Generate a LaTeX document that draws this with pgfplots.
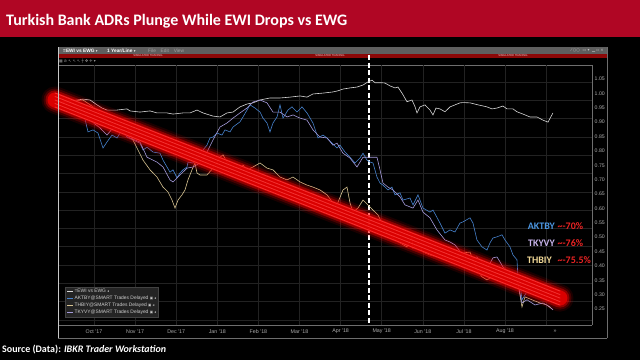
\documentclass[border=0pt]{standalone}
\usepackage{pgfplots}
\pgfplotsset{compat=1.18}
\usepackage{fontspec}
\setmainfont{Carlito}
\newfontfamily\lib{Liberation Sans}
\newfontfamily\dv{DejaVu Sans}
\definecolor{titlered}{RGB}{176,6,36}
\definecolor{ewi}{RGB}{215,215,215}
\definecolor{akt}{RGB}{70,130,205}
\definecolor{tky}{RGB}{165,155,220}
\definecolor{thb}{RGB}{215,195,145}
\definecolor{aktT}{RGB}{75,150,225}
\definecolor{tkyT}{RGB}{200,180,235}
\definecolor{thbT}{RGB}{240,215,150}
\definecolor{annred}{RGB}{235,35,35}
\definecolor{bandcore}{RGB}{225,0,0}
\definecolor{bandline}{RGB}{255,70,70}
\definecolor{gridc}{RGB}{34,34,34}
\definecolor{hdr}{RGB}{95,95,95}
\definecolor{simred}{RGB}{140,8,8}
\definecolor{frame}{RGB}{110,110,110}
\definecolor{simtxt}{RGB}{235,205,205}
\definecolor{menugray}{RGB}{160,160,160}
\definecolor{icongray}{RGB}{190,190,190}
\definecolor{toolgray}{RGB}{165,165,165}
\definecolor{ticktxt}{RGB}{172,172,172}
\definecolor{legfill}{RGB}{36,36,36}
\definecolor{legdraw}{RGB}{66,66,66}
\definecolor{legtxt}{RGB}{205,205,205}
\definecolor{leftedge}{RGB}{200,200,200}
\begin{document}
\begin{tikzpicture}[x=1pt,y=1pt]
\fill[black] (0,0) rectangle (640,360);
% title bar
\fill[titlered] (0,323.5) rectangle (640,360);
\node[anchor=base west, inner sep=0, text=white, font=\fontsize{16}{18}\selectfont\bfseries] at (6,334.5) {Turkish Bank ADRs Plunge While EWI Drops vs EWG};
% window header
\fill[hdr] (58,306) rectangle (607,313.3);
\fill[simred] (58,302.5) rectangle (607,306);
\foreach \xx in {148,330,513}{\node[text=simtxt, font=\lib\fontsize{2.8}{3}\selectfont, inner sep=0] at (\xx,304.25) {SIMULATED TRADING};}
\node[anchor=west, inner sep=0, text=white, font=\lib\bfseries\fontsize{4.8}{5}\selectfont] at (63,309.6) {=EWI vs EWG {\dv\fontsize{3.5}{4}\selectfont ▾}};
\node[anchor=west, inner sep=0, text=white, font=\lib\bfseries\fontsize{4.8}{5}\selectfont] at (107,309.6) {1 Year/Line {\dv\fontsize{3.5}{4}\selectfont ▾}};
\node[anchor=west, inner sep=0, text=menugray, font=\lib\fontsize{4.8}{5}\selectfont] at (148,309.6) {File\quad Edit\quad View};
\node[anchor=east, inner sep=0, text=icongray, font=\dv\fontsize{4}{5}\selectfont] at (604,309.6) {⁄ ○○\ \ ▭ ▾\ \ ▁ ▫ ×};
% toolbar icons
\node[anchor=west, inner sep=0, text=toolgray, font=\dv\fontsize{3.8}{4}\selectfont] at (59,299) {▦ ⊘ ↖ ↖ ↖ ┼ ✥ ✛ ▾};
% frame lines
\draw[frame, line width=0.5pt] (58,295) -- (592,295);
\draw[frame, line width=0.5pt] (58,35) -- (592,35);
\draw[frame, line width=0.5pt] (592,35) -- (592,295);
\draw[frame, line width=0.6pt] (607,22) -- (607,313.3);
\draw[frame, line width=0.6pt] (58,22) -- (607,22);
\begin{axis}[
  at={(58pt,35pt)}, anchor=south west,
  scale only axis, width=534pt, height=260pt,
  xmin=-0.876, xmax=12.117, ymin=0.1943, ymax=1.0987,
  clip=false,
  axis line style={draw=none},
  major tick length=0pt,
  tick style={draw=none},
  /pgf/number format/assume math mode=true,
  xtick={0,1,2,3,4,5,6,7,8,9,10},
  xticklabels={Oct '17,Nov '17,Dec '17,Jan '18,Feb '18,Mar '18,Apr '18,May '18,Jun '18,Jul '18,Aug '18},
  xticklabel style={anchor=center, yshift=-6.5pt, inner sep=0pt, font=\lib\fontsize{5.3}{6}\selectfont, text=ticktxt},
  xmajorgrids, major grid style={gridc, line width=0.5pt},
  extra x ticks={11}, extra x tick labels={},
  ytick={0.25,0.30,0.35,0.40,0.45,0.50,0.55,0.60,0.65,0.70,0.75,0.80,0.85,0.90,0.95,1.00,1.05},
  yticklabel pos=right,
  yticklabel style={anchor=west, inner sep=0pt, xshift=2.5pt, font=\lib\fontsize{5.2}{6}\selectfont, text=ticktxt, /pgf/number format/.cd, fixed, fixed zerofill, precision=2},
  extra y ticks={1.0396,0.9759,0.9123,0.8486,0.7850,0.7213,0.6577,0.5940,0.5304,0.4667,0.4031,0.3394,0.2758,0.2121},
  extra y tick labels={},
  extra y tick style={grid=major},
  legend style={at={(0.0131,0.146)}, anchor=north west, fill=legfill, draw=legdraw, text=legtxt, font=\lib\fontsize{4.9}{5}\selectfont, inner xsep=1.5pt, inner ysep=1.2pt, row sep=0.5pt, nodes={inner sep=0.7pt}},
  legend cell align=left,
  legend image code/.code={\draw[#1, line width=1.2pt] (0pt,0pt) -- (6pt,0pt);},
]
% dashed vertical marker
\draw[white, line width=1.1pt, dash pattern=on 5pt off 2.5pt] (axis cs:6.691,1.1335) -- (axis cs:6.691,0.1943);
% EWI vs EWG
\addplot[ewi, line width=0.6pt] coordinates {(-0.827,0.971) (-0.511,0.975) (-0.268,0.980) (-0.097,0.977) (0.073,0.960) (0.195,0.949) (0.316,0.942) (0.560,0.942) (0.803,0.946) (0.876,0.939) (1.119,0.935) (1.363,0.939) (1.533,0.932) (1.776,0.932) (1.922,0.928) (2.165,0.932) (2.336,0.932) (2.506,0.942) (2.652,0.932) (2.895,0.921) (3.066,0.918) (3.236,0.932) (3.382,0.935) (3.552,0.953) (3.723,0.963) (3.869,0.967) (4.039,0.977) (4.282,0.984) (4.526,0.984) (4.769,0.987) (5.012,0.991) (5.182,0.987) (5.328,0.998) (5.572,1.001) (5.815,1.005) (5.937,1.009) (6.058,1.015) (6.229,1.019) (6.399,1.022) (6.545,1.029) (6.666,1.040) (6.764,1.046) (6.837,1.037) (7.007,1.037) (7.080,1.036) (7.202,1.026) (7.323,1.019) (7.396,1.022) (7.494,1.001) (7.615,0.971) (7.737,0.977) (7.810,0.954) (7.859,0.932) (7.932,0.953) (8.053,0.960) (8.175,0.942) (8.248,0.925) (8.321,0.949) (8.418,0.946) (8.540,0.936) (8.662,0.953) (8.783,0.960) (8.905,0.967) (8.978,0.968) (9.148,0.967) (9.318,0.961) (9.562,0.953) (9.683,0.946) (9.805,0.949) (9.951,0.956) (10.048,0.946) (10.194,0.946) (10.292,0.936) (10.438,0.928) (10.608,0.918) (10.778,0.918) (10.924,0.907) (11.046,0.900) (11.167,0.932)};
\addlegendentry{=EWI vs EWG {\dv\fontsize{3.5}{4}\selectfont ◂}}
% AKTBY
\addplot[akt, line width=0.6pt] coordinates {(-0.827,0.970) (-0.511,0.967) (-0.341,0.918) (-0.219,0.911) (-0.146,0.866) (-0.024,0.873) (0.097,0.862) (0.219,0.810) (0.316,0.831) (0.438,0.855) (0.560,0.845) (0.681,0.873) (0.803,0.848) (0.949,0.838) (1.119,0.827) (1.192,0.803) (1.290,0.813) (1.436,0.796) (1.606,0.792) (1.679,0.768) (1.776,0.744) (1.849,0.726) (1.922,0.734) (2.019,0.706) (2.092,0.723) (2.165,0.734) (2.263,0.744) (2.287,0.761) (2.409,0.758) (2.506,0.775) (2.579,0.792) (2.652,0.803) (2.749,0.820) (2.822,0.845) (2.895,0.848) (2.993,0.862) (3.114,0.855) (3.187,0.873) (3.309,0.866) (3.382,0.883) (3.552,0.901) (3.625,0.918) (3.723,0.942) (3.796,0.960) (3.917,0.949) (4.039,0.935) (4.112,0.914) (4.209,0.897) (4.282,0.866) (4.355,0.897) (4.453,0.918) (4.526,0.960) (4.599,0.914) (4.720,0.942) (4.817,0.953) (4.939,0.935) (5.061,0.953) (5.182,0.932) (5.328,0.897) (5.450,0.845) (5.572,0.855) (5.669,0.845) (5.791,0.827) (5.912,0.810) (5.985,0.820) (6.107,0.796) (6.229,0.778) (6.350,0.758) (6.472,0.775) (6.545,0.792) (6.642,0.768) (6.715,0.761) (6.788,0.758) (6.885,0.709) (6.959,0.688) (7.031,0.681) (7.153,0.664) (7.250,0.674) (7.323,0.647) (7.445,0.654) (7.518,0.629) (7.689,0.636) (7.761,0.612) (7.883,0.647) (8.005,0.601) (8.175,0.587) (8.248,0.594) (8.418,0.549) (8.540,0.514) (8.662,0.525) (8.783,0.518) (8.905,0.549) (8.978,0.553) (9.148,0.567) (9.221,0.549) (9.318,0.490) (9.440,0.466) (9.562,0.455) (9.635,0.480) (9.708,0.497) (9.805,0.501) (9.927,0.508) (10.000,0.490) (10.122,0.466) (10.194,0.438) (10.292,0.421) (10.316,0.358) (10.365,0.341) (10.413,0.282) (10.535,0.310) (10.681,0.327) (10.852,0.327) (11.021,0.316) (11.143,0.306)};
\addlegendentry{AKTBY@SMART Trades Delayed {\dv\fontsize{3.5}{4}\selectfont ▣ ◂}}
% THBIY
\addplot[thb, line width=0.6pt] coordinates {(-0.827,0.970) (-0.584,0.974) (-0.268,0.977) (-0.024,0.953) (0.146,0.932) (0.316,0.907) (0.560,0.880) (0.803,0.883) (0.949,0.838) (1.071,0.803) (1.192,0.768) (1.363,0.734) (1.533,0.709) (1.679,0.674) (1.800,0.657) (1.898,0.629) (1.971,0.601) (2.044,0.629) (2.141,0.647) (2.214,0.664) (2.287,0.699) (2.384,0.734) (2.457,0.758) (2.506,0.723) (2.579,0.716) (2.749,0.716) (2.895,0.740) (3.066,0.778) (3.139,0.786) (3.236,0.761) (3.382,0.744) (3.552,0.740) (3.625,0.751) (3.723,0.734) (3.869,0.744) (4.039,0.758) (4.209,0.740) (4.355,0.734) (4.526,0.709) (4.696,0.699) (4.842,0.709) (5.012,0.692) (5.182,0.681) (5.328,0.674) (5.499,0.664) (5.669,0.647) (5.815,0.619) (5.912,0.612) (6.058,0.664) (6.156,0.674) (6.229,0.619) (6.302,0.587) (6.423,0.601) (6.545,0.629) (6.666,0.612) (6.788,0.594) (6.910,0.577) (7.007,0.549) (7.129,0.514) (7.275,0.497) (7.445,0.480) (7.615,0.466) (7.737,0.501) (7.761,0.462) (7.883,0.480) (8.005,0.448) (8.175,0.438) (8.345,0.431) (8.491,0.428) (8.662,0.421) (8.832,0.431) (8.978,0.445) (9.148,0.448) (9.221,0.421) (9.318,0.386) (9.440,0.362) (9.562,0.351) (9.683,0.362) (9.805,0.375) (9.927,0.369) (10.048,0.362) (10.194,0.358) (10.316,0.341) (10.413,0.257) (10.486,0.292) (10.657,0.282) (10.852,0.271) (11.021,0.264) (11.143,0.250)};
\addlegendentry{THBIY@SMART Trades Delayed {\dv\fontsize{3.5}{4}\selectfont ▣ ◂}}
% TKYVY
\addplot[tky, line width=0.6pt] coordinates {(-0.827,0.970) (-0.511,0.963) (-0.268,0.942) (-0.097,0.907) (0.146,0.880) (0.316,0.855) (0.462,0.880) (0.633,0.873) (0.876,0.845) (1.119,0.831) (1.290,0.778) (1.533,0.761) (1.679,0.744) (1.849,0.699) (1.922,0.692) (2.092,0.716) (2.263,0.740) (2.409,0.744) (2.579,0.758) (2.749,0.796) (2.895,0.838) (3.066,0.883) (3.236,0.897) (3.382,0.914) (3.552,0.932) (3.723,0.949) (3.869,0.970) (4.039,0.977) (4.209,0.967) (4.355,0.935) (4.526,0.935) (4.696,0.918) (4.842,0.925) (5.012,0.914) (5.182,0.907) (5.328,0.873) (5.499,0.848) (5.669,0.845) (5.815,0.820) (5.912,0.827) (6.058,0.792) (6.229,0.775) (6.399,0.744) (6.545,0.778) (6.715,0.778) (6.885,0.778) (6.959,0.734) (7.031,0.688) (7.153,0.674) (7.275,0.664) (7.445,0.640) (7.567,0.612) (7.761,0.601) (7.883,0.629) (8.005,0.587) (8.175,0.567) (8.345,0.525) (8.540,0.490) (8.662,0.483) (8.783,0.473) (8.978,0.438) (9.148,0.421) (9.318,0.431) (9.464,0.410) (9.586,0.396) (9.708,0.428) (9.805,0.431) (9.878,0.414) (9.951,0.396) (10.122,0.375) (10.292,0.351) (10.413,0.271) (10.535,0.282) (10.730,0.264) (10.924,0.271) (11.095,0.257) (11.167,0.247)};
\addlegendentry{TKYVY@SMART Trades Delayed {\dv\fontsize{3.5}{4}\selectfont ▣ ◂}}
% red glowing trend band
\addplot[forget plot, line width=27pt, color=red, opacity=0.10, line cap=round] coordinates {(-0.949,0.977) (11.338,0.288)};
\addplot[forget plot, line width=23pt, color=red, opacity=0.20, line cap=round] coordinates {(-0.949,0.977) (11.338,0.288)};
\addplot[forget plot, line width=19pt, color=red, opacity=0.40, line cap=round] coordinates {(-0.949,0.977) (11.338,0.288)};
\addplot[forget plot, line width=15pt, color=bandcore, opacity=0.92, line cap=round] coordinates {(-0.949,0.977) (11.338,0.288)};
\addplot[forget plot, line width=0.8pt, color=bandline, opacity=0.7, line cap=round] coordinates {(-0.949,1.0014) (11.338,0.3124)};
\addplot[forget plot, line width=0.8pt, color=bandline, opacity=0.7, line cap=round] coordinates {(-0.949,0.9892) (11.338,0.3002)};
\addplot[forget plot, line width=0.8pt, color=bandline, opacity=0.7, line cap=round] coordinates {(-0.949,0.9770) (11.338,0.2880)};
\addplot[forget plot, line width=0.8pt, color=bandline, opacity=0.7, line cap=round] coordinates {(-0.949,0.9648) (11.338,0.2758)};
\addplot[forget plot, line width=0.8pt, color=bandline, opacity=0.7, line cap=round] coordinates {(-0.949,0.9526) (11.338,0.2636)};
\end{axis}
% left bright window edge
\draw[leftedge, line width=0.7pt] (58,22) -- (58,313.3);
\node[text=ticktxt, font=\lib\fontsize{5.3}{6}\selectfont, inner sep=0] at (555,28.5) {»};
% annotations
\node[anchor=base east, inner sep=0, text=aktT, font=\fontsize{10}{12}\selectfont\bfseries] at (555,130.5) {AKTBY};
\node[anchor=base west, inner sep=0, text=annred, font=\fontsize{10}{12}\selectfont\bfseries] at (557.5,130.5) {\textasciitilde-70\%};
\node[anchor=base east, inner sep=0, text=tkyT, font=\fontsize{10}{12}\selectfont\bfseries] at (555,114) {TKYVY};
\node[anchor=base west, inner sep=0, text=annred, font=\fontsize{10}{12}\selectfont\bfseries] at (557.5,114) {\textasciitilde-76\%};
\node[anchor=base east, inner sep=0, text=thbT, font=\fontsize{10}{12}\selectfont\bfseries] at (552,96.5) {THBIY};
\node[anchor=base west, inner sep=0, text=annred, font=\fontsize{10}{12}\selectfont\bfseries] at (557.5,96.5) {\textasciitilde-75.5\%};
% source
\node[anchor=base west, inner sep=0, text=white, font=\fontsize{10}{12}\selectfont\bfseries] at (2,7.4) {Source (Data): \textit{IBKR Trader Workstation}};
\end{tikzpicture}
\end{document}
